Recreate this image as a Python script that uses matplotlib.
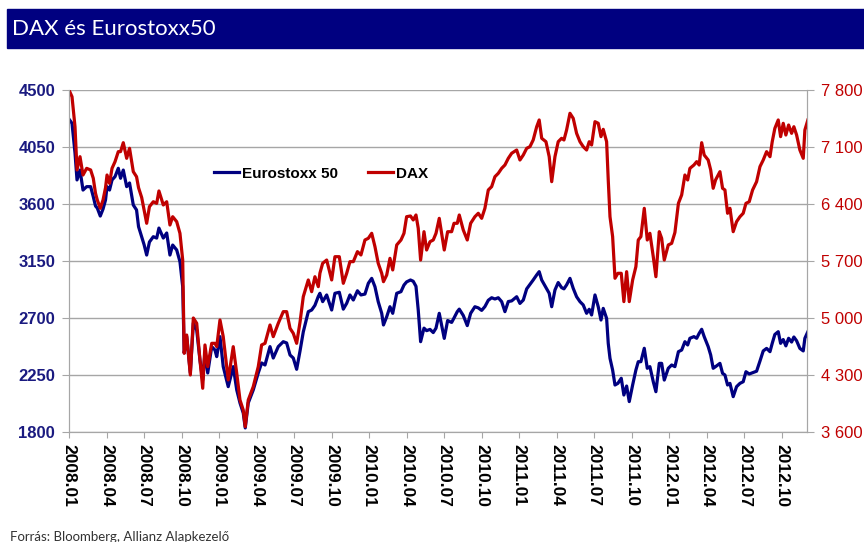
import matplotlib.pyplot as plt
from matplotlib.patches import Rectangle
from matplotlib.ticker import FuncFormatter

# time axis: months elapsed since 2008.01
months = [0.0, 0.24, 0.48, 0.64, 0.88, 1.12, 1.41, 1.73, 1.94, 2.12, 2.26, 2.50, 2.72, 2.92,
          3.04, 3.24, 3.44, 3.68, 3.94, 4.12, 4.34, 4.61, 4.84, 5.14, 5.40, 5.56, 5.81, 6.00,
          6.21, 6.43, 6.74, 7.01, 7.19, 7.54, 7.81, 8.07, 8.29, 8.61, 8.87, 9.09, 9.21, 9.41,
          9.70, 9.94, 10.21, 10.47, 10.69, 10.87, 11.09, 11.41, 11.67, 11.81, 12.07, 12.33,
          12.73, 13.13, 13.41, 13.67, 13.93, 14.09, 14.33, 14.73, 15.13, 15.40, 15.67, 16.07,
          16.33, 16.73, 17.13, 17.40, 17.67, 17.93, 18.20, 18.47, 18.73, 19.13, 19.40, 19.66,
          19.93, 20.06, 20.28, 20.60, 21.00, 21.26, 21.61, 21.93, 22.20, 22.46, 22.73, 23.06,
          23.34, 23.66, 23.93, 24.20, 24.46, 24.72, 25.00, 25.14, 25.40, 25.66, 25.88, 26.20,
          26.54, 26.78, 26.99, 27.30, 27.52, 27.74, 27.92, 28.11, 28.38, 28.59, 28.86, 29.12,
          29.34, 29.60, 30.00, 30.27, 30.59, 30.78, 31.04, 31.20, 31.52, 31.84, 32.11, 32.45,
          32.72, 32.99, 33.25, 33.52, 33.79, 34.05, 34.32, 34.59, 34.85, 35.12, 35.39, 35.79,
          36.05, 36.32, 36.59, 36.85, 37.11, 37.39, 37.59, 37.79, 38.13, 38.39, 38.59, 38.85,
          39.11, 39.38, 39.57, 39.78, 40.05, 40.31, 40.58, 40.85, 41.11, 41.38, 41.59, 41.78,
          42.05, 42.31, 42.53, 42.71, 42.98, 43.11, 43.25, 43.46, 43.65, 43.88, 44.15, 44.36,
          44.58, 44.79, 45.06, 45.32, 45.51, 45.72, 45.99, 46.23, 46.44, 46.71, 46.92, 47.19,
          47.38, 47.59, 47.91, 48.18, 48.44, 48.72, 48.98, 49.24, 49.46, 49.64, 49.96, 50.18,
          50.38, 50.58, 50.78, 51.10, 51.30, 51.50, 51.69, 52.04, 52.25, 52.44, 52.65, 52.84,
          53.10, 53.37, 53.64, 53.90, 54.12, 54.38, 54.65, 54.97, 55.24, 55.50, 55.77, 56.04,
          56.22, 56.43, 56.70, 56.89, 57.10, 57.31, 57.53, 57.77, 57.95, 58.17, 58.43, 58.70,
          58.83, 59.07]

eurostoxx = [4270, 4237, 4003, 3790, 3868, 3710, 3737, 3737, 3658, 3584, 3568, 3505, 3560, 3632,
             3737, 3710, 3790, 3816, 3882, 3803, 3868, 3737, 3766, 3592, 3553, 3421, 3342, 3280,
             3197, 3300, 3342, 3331, 3410, 3331, 3371, 3197, 3276, 3237, 3145, 2947, 2424, 2553,
             2266, 2660, 2605, 2368, 2210, 2424, 2266, 2474, 2447, 2395, 2553, 2316,
             2158, 2316, 2132, 2029, 1950, 1832, 2029, 2132, 2266, 2345, 2329, 2474,
             2384, 2474, 2513, 2503, 2408, 2384, 2295, 2440, 2590, 2750, 2763, 2800,
             2870, 2895, 2829, 2882, 2763, 2895, 2903, 2770, 2816, 2882, 2842, 2915,
             2882, 2889, 2974, 3013, 2947, 2829, 2737, 2645, 2710, 2789, 2737, 2895,
             2908, 2960, 2985, 3000, 2990, 2950, 2763, 2513, 2620, 2600, 2610, 2585,
             2620, 2737, 2539, 2680, 2665, 2700, 2750, 2770, 2720, 2640, 2737, 2789,
             2780, 2760, 2790, 2840, 2860, 2850, 2860, 2829, 2750, 2830, 2835, 2868,
             2815, 2842, 2930, 2965, 3000, 3040, 3066, 3000, 2940, 2895, 2789, 2921,
             2980, 2940, 2930, 2961, 3013, 2934, 2868, 2829, 2803, 2737, 2769, 2724,
             2882, 2789, 2684, 2776, 2697, 2500, 2382, 2289, 2171, 2184, 2224, 2092,
             2163, 2040, 2171, 2289, 2355, 2355, 2461, 2303, 2316, 2197, 2118, 2342,
             2342, 2210, 2303, 2329, 2316, 2434, 2447, 2513, 2487, 2540, 2553, 2540,
             2579, 2611, 2553, 2474, 2408, 2303, 2316, 2342, 2263, 2250, 2171, 2184,
             2079, 2158, 2184, 2197, 2276, 2258, 2268, 2280, 2360, 2440, 2460, 2434,
             2500, 2570, 2592, 2500, 2530, 2480, 2540, 2510, 2550, 2520, 2460, 2440,
             2540, 2592]

dax = [7800, 7718, 7349, 6818, 6981, 6756, 6838, 6818, 6716, 6531, 6450, 6347, 6449, 6600,
       6756, 6654, 6838, 6920, 7043, 7043, 7153, 6961, 7084, 6797, 6735, 6600, 6480, 6326,
       6163, 6367, 6428, 6408, 6560, 6388, 6428, 6142, 6244, 6183, 6040, 5712, 4567, 4791,
       4300, 5000, 4935, 4484, 4137, 4669, 4402, 4689, 4689, 4648, 4976, 4771,
       4239, 4648, 4321, 3993, 3870, 3665, 3993, 4157, 4402, 4669, 4689, 4914,
       4771, 4935, 5078, 5078, 4873, 4812, 4689, 4950, 5262, 5467, 5323, 5507,
       5385, 5550, 5672, 5712, 5467, 5753, 5753, 5426, 5549, 5692, 5692, 5815,
       5774, 5958, 5979, 6040, 5876, 5672, 5549, 5446, 5528, 5733, 5590, 5897,
       5958, 6040, 6244, 6253, 6204, 6265, 6102, 5712, 6060, 5835, 5937, 5958,
       6040, 6224, 5835, 6060, 6060, 6163, 6163, 6265, 6081, 5958, 6163, 6244,
       6286, 6224, 6347, 6572, 6613, 6735, 6777, 6838, 6879, 6961, 7023, 7063,
       6940, 7002, 7084, 7104, 7186, 7349, 7432, 7207, 7165, 6981, 6674, 6981,
       7165, 7207, 7186, 7309, 7514, 7452, 7268, 7165, 7104, 7063, 7165, 7125,
       7411, 7391, 7227, 7317, 7165, 6695, 6244, 6000, 5488, 5549, 5549, 5201,
       5569, 5201, 5467, 5630, 5958, 5999, 6347, 5958, 6040, 5753, 5507, 6060,
       5979, 5712, 5897, 5917, 6050, 6408, 6511, 6756, 6695, 6838, 6879, 6920,
       6879, 7153, 7002, 6940, 6818, 6593, 6695, 6797, 6593, 6572, 6286, 6347,
       6060, 6183, 6244, 6286, 6408, 6428, 6572, 6674, 6859, 6940, 7043, 6981,
       7165, 7329, 7432, 7227, 7391, 7247, 7370, 7268, 7349, 7247, 7063, 6961,
       7309, 7432]

tick_labels = ["2008.01", "2008.04", "2008.07", "2008.10", "2009.01", "2009.04", "2009.07",
               "2009.10", "2010.01", "2010.04", "2010.07", "2010.10", "2011.01", "2011.04",
               "2011.07", "2011.10", "2012.01", "2012.04", "2012.07", "2012.10"]
left_ticks = [1800, 2250, 2700, 3150, 3600, 4050, 4500]
right_ticks = [3600, 4300, 5000, 5700, 6400, 7100, 7800]

BLUE = "#000080"
RED = "#c00000"
GRID = "#a6a6a6"

fig = plt.figure(figsize=(8.64, 5.42), dpi=100)

# title bar
fig.patches.append(Rectangle((7 / 864, 1 - 47.5 / 542), 857 / 864, 38.5 / 542,
                             transform=fig.transFigure, color="#000080", zorder=0))
fig.text(12 / 864, 1 - 29 / 542, "DAX és Eurostoxx50", color="white", fontsize=16,
         family=["Liberation Sans Narrow", "Lato"], va="center", ha="left")

ax = fig.add_axes([69 / 864, 1 - 432 / 542, 738 / 864, 342 / 542])
ax2 = ax.twinx()

l1, = ax.plot(months, eurostoxx, color=BLUE, lw=2.3, label="Eurostoxx 50")
l2, = ax2.plot(months, dax, color=RED, lw=2.3, label="DAX")

ax.set_xlim(0, 59.0)
ax.set_ylim(1800, 4500)
ax2.set_ylim(3600, 7800)
ax.set_yticks(left_ticks)
ax2.set_yticks(right_ticks)
ax.set_xticks(range(0, 60, 3))
ax.set_xticklabels(tick_labels, rotation=-90, fontsize=12.5, fontweight="bold",
                   family="Liberation Sans", va="top", ha="center")
ax2.yaxis.set_major_formatter(FuncFormatter(lambda v, p: f"{int(v):,}".replace(",", " ")))

ax.grid(axis="y", color=GRID, lw=1)
ax.set_axisbelow(True)
for a in (ax, ax2):
    for s in a.spines.values():
        s.set_color(GRID)
    a.spines["top"].set_visible(False)
ax.tick_params(axis="x", length=4, color=GRID, pad=5)
ax.tick_params(axis="y", length=5, color=GRID, labelcolor="#1a1a80", labelsize=12, pad=5)
ax2.tick_params(axis="y", length=5, color=GRID, labelcolor=RED, labelsize=12, pad=5)
for t in ax.get_yticklabels():
    t.set_fontweight("bold")
    t.set_family("Liberation Sans")
for t in ax2.get_yticklabels():
    t.set_family("Liberation Sans")

leg = ax2.legend(handles=[l1, l2], loc="center left", bbox_to_anchor=(0.197, 0.755), ncol=2,
                 frameon=False, borderpad=0, borderaxespad=0, handlelength=1.6,
                 handletextpad=0.2, columnspacing=2.0,
                 prop={"family": "Liberation Sans", "weight": "bold", "size": 11})

fig.text(10 / 864, 1 - 537 / 542, "Forrás: Bloomberg, Allianz Alapkezelő", fontsize=9.5,
         color="#333333", family=["Liberation Sans Narrow", "Lato"], va="center", ha="left")

plt.savefig("out.png", dpi=100)
